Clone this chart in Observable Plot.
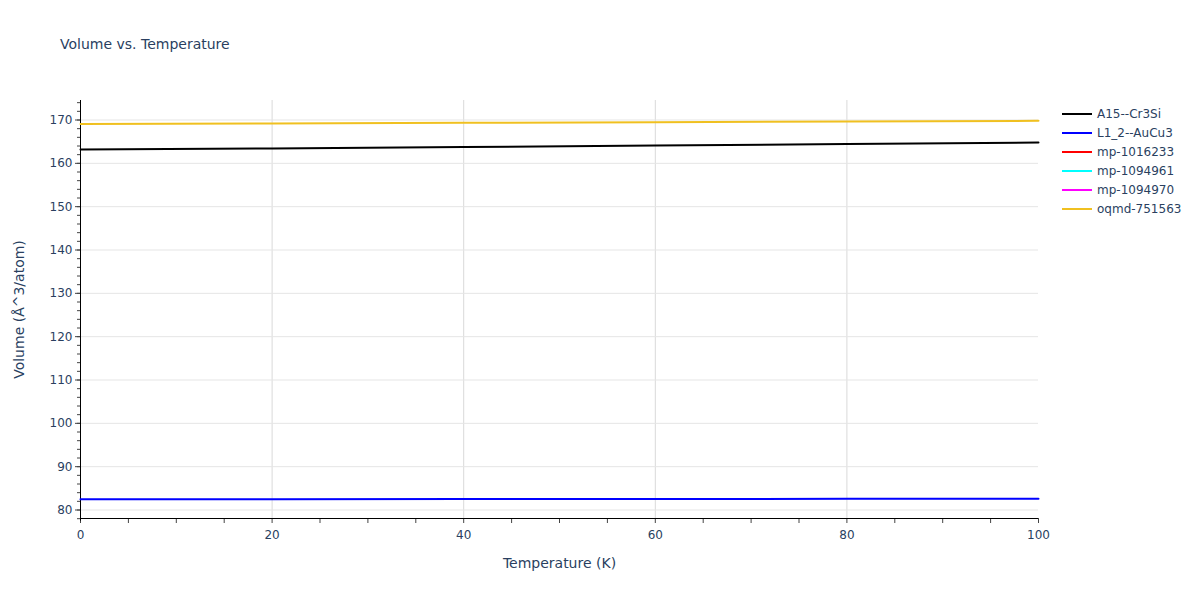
<!DOCTYPE html>
<html><head><meta charset="utf-8">
<script src="https://cdn.jsdelivr.net/npm/d3@7"></script>
<script src="https://cdn.jsdelivr.net/npm/@observablehq/plot@0.6"></script>
<style>
body{margin:0;background:#fff;font-family:"DejaVu Sans",sans-serif;}
#wrap{position:relative;width:1200px;height:600px;}
#title{position:absolute;left:60px;top:36px;font-size:14px;color:#2a3f5f;}
#legend{position:absolute;left:1062px;top:104px;font-size:12px;color:#2a3f5f;}
.li{height:19px;display:flex;align-items:center;white-space:nowrap;}
.sw{width:30px;height:2px;margin-right:5px;flex-shrink:0;}
</style></head>
<body><div id="wrap"><div id="title">Volume vs. Temperature</div><div id="legend"></div></div>
<script>
const temps = [0, 20, 40, 60, 80, 100];
const seriesNames = ["A15--Cr3Si","L1_2--AuCu3","mp-1016233","mp-1094961","mp-1094970","oqmd-751563"];
const colors = ["#000000","#0000ff","#ff0000","#00ffff","#ff00ff","#f0c020"];
const volA15 = [163.2, 163.45, 163.75, 164.1, 164.45, 164.8];
const volL12 = [82.5, 82.51, 82.53, 82.55, 82.57, 82.6];
const volMp1016233 = [];
const volMp1094961 = [];
const volMp1094970 = [];
const volOqmd = [169.1, 169.2, 169.35, 169.5, 169.65, 169.8];
const xTicks = [0, 20, 40, 60, 80, 100];
const yTicks = [80, 90, 100, 110, 120, 130, 140, 150, 160, 170];

const allVals = [volA15, volL12, volMp1016233, volMp1094961, volMp1094970, volOqmd];
const data = [];
seriesNames.forEach((s, i) => allVals[i].forEach((v, j) => data.push({series: s, T: temps[j], V: v})));
const yMin = 78.04, yMax = 174.5;
const fc = "#2a3f5f";

const chart = Plot.plot({
  width: 1200, height: 600,
  marginLeft: 80, marginRight: 162, marginTop: 100, marginBottom: 82,
  style: {fontFamily: "'DejaVu Sans', sans-serif", fontSize: "12px", color: fc, background: "transparent"},
  x: {domain: [0, 100], label: null},
  y: {domain: [yMin, yMax], label: null},
  color: {domain: seriesNames, range: colors},
  marks: [
    Plot.gridX(xTicks.filter(d => d > 0 && d < 100), {stroke: "#d9d9d9", strokeOpacity: 1}),
    Plot.gridY(yTicks, {stroke: "#e5e5e5", strokeOpacity: 1}),
    Plot.axisX({ticks: d3.range(0, 101, 5), tickSize: 5, text: null, stroke: "#444", label: null}),
    Plot.axisX({ticks: xTicks, tickSize: 0, tickPadding: 12, fontSize: 12, label: null, fill: fc}),
    Plot.axisY({ticks: d3.range(78, 175, 2), tickSize: 3, text: null, stroke: "#444", label: null}),
    Plot.axisY({ticks: yTicks, tickSize: 5, tickPadding: 3, fontSize: 12, label: null, stroke: "#444", fill: fc}),
    Plot.text(["Temperature (K)"], {frameAnchor: "bottom", dy: 49, fontSize: 14, fill: fc}),
    Plot.text(["Volume (Å^3/atom)"], {frameAnchor: "left", dx: -61, rotate: -90, textAnchor: "middle", fontSize: 14, fill: fc}),
    Plot.ruleX([0], {stroke: "#000", y1: yMin - 0.6, y2: yMax}),
    Plot.ruleY([yMin], {stroke: "#000"}),
    Plot.line(data, {x: "T", y: "V", stroke: "series", z: "series", strokeWidth: 2})
  ]
});
const wrap = document.getElementById("wrap");
chart.style.position = "absolute"; chart.style.left = "0"; chart.style.top = "0";
wrap.insertBefore(chart, wrap.firstChild);
const leg = document.getElementById("legend");
seriesNames.forEach((s, i) => {
  const d = document.createElement("div"); d.className = "li";
  d.innerHTML = `<div class="sw" style="background:${colors[i]}"></div><span>${s}</span>`;
  leg.appendChild(d);
});
</script></body></html>
